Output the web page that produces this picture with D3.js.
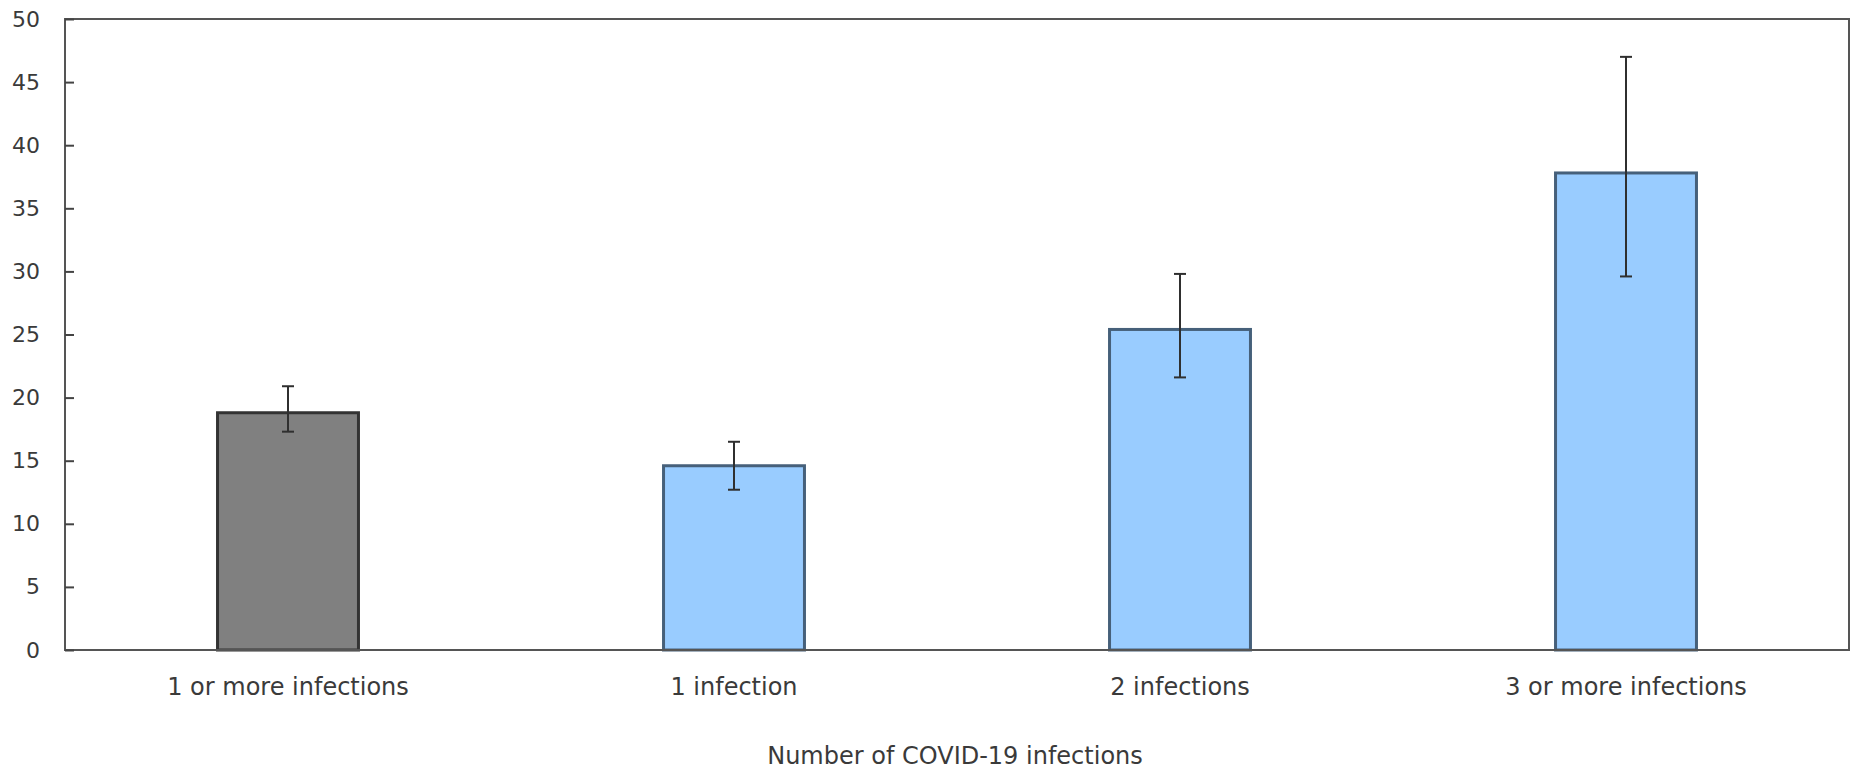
<!DOCTYPE html>
<html>
<head>
<meta charset="utf-8">
<script src="https://cdn.jsdelivr.net/npm/d3@7"></script>
<style>
  body { margin: 0; background: #ffffff; }
  text { font-family: "DejaVu Sans", Verdana, sans-serif; fill: #3a3a3a; }
</style>
</head>
<body>
<div id="my_chart"></div>
<script>
const categories = ["1 or more infections", "1 infection", "2 infections", "3 or more infections"];
const values = [18.8, 14.6, 25.4, 37.8];
const lowerCI = [17.3, 12.7, 21.6, 29.6];
const upperCI = [20.9, 16.5, 29.8, 47.0];
const barColors = ["#808080", "#99ccff", "#99ccff", "#99ccff"];
const yTicks = [0, 5, 10, 15, 20, 25, 30, 35, 40, 45, 50];
const xTitle = "Number of COVID-19 infections";

const width = 1856;
const height = 772;
const margin = { top: 19, right: 7, bottom: 122, left: 65 };

const svg = d3
  .select("#my_chart")
  .append("svg")
  .attr("width", width)
  .attr("height", height);

const x = d3
  .scaleBand()
  .domain(categories)
  .range([margin.left, width - margin.right])
  .paddingInner(0.684)
  .paddingOuter(0.342);

const y = d3
  .scaleLinear()
  .domain([0, 50])
  .range([height - margin.bottom, margin.top]);

const rows = categories.map((c, i) => ({
  cat: c,
  value: values[i],
  lo: lowerCI[i],
  hi: upperCI[i],
  color: barColors[i],
}));

// bars
svg
  .selectAll(".bar")
  .data(rows)
  .enter()
  .append("rect")
  .attr("class", "bar")
  .attr("x", (d) => x(d.cat))
  .attr("y", (d) => y(d.value))
  .attr("width", x.bandwidth())
  .attr("height", (d) => y(0) - y(d.value))
  .style("fill", (d) => d.color)
  .style("stroke", (d, i) => (i === 0 ? "#333333" : "#46607a"))
  .style("stroke-width", "3px");

// error bars
const err = svg.append("g").style("stroke", "#2f2f2f").style("stroke-width", "2px");
const cx = (d) => x(d.cat) + x.bandwidth() / 2;
err
  .selectAll(".err-line")
  .data(rows)
  .enter()
  .append("line")
  .attr("x1", cx)
  .attr("x2", cx)
  .attr("y1", (d) => y(d.lo))
  .attr("y2", (d) => y(d.hi));
["lo", "hi"].forEach((k) => {
  err
    .selectAll(".cap-" + k)
    .data(rows)
    .enter()
    .append("line")
    .attr("x1", (d) => cx(d) - 6)
    .attr("x2", (d) => cx(d) + 6)
    .attr("y1", (d) => y(d[k]))
    .attr("y2", (d) => y(d[k]));
});

// frame
svg
  .append("rect")
  .attr("x", margin.left)
  .attr("y", margin.top)
  .attr("width", width - margin.left - margin.right)
  .attr("height", y(0) - margin.top)
  .style("fill", "none")
  .style("stroke", "#555555")
  .style("stroke-width", "2px");

// y axis, ticks inside
const yAxis = svg
  .append("g")
  .attr("transform", `translate(${margin.left},0)`)
  .call(d3.axisLeft(y).tickValues(yTicks).tickSize(-9).tickPadding(25));
yAxis.select(".domain").remove();
yAxis.selectAll(".tick line").style("stroke", "#444444").style("stroke-width", "2px");
yAxis
  .selectAll(".tick text")
  .style("font-size", "22px")
  .style("fill", "#3a3a3a")
  .attr("font-family", null);

// category labels
svg
  .selectAll(".cat-label")
  .data(categories)
  .enter()
  .append("text")
  .attr("class", "cat-label")
  .attr("x", (d) => x(d) + x.bandwidth() / 2)
  .attr("y", 695)
  .attr("text-anchor", "middle")
  .style("font-size", "24px")
  .text((d) => d);

svg
  .append("text")
  .attr("x", 955)
  .attr("y", 764)
  .attr("text-anchor", "middle")
  .style("font-size", "24px")
  .text(xTitle);
</script>
</body>
</html>
